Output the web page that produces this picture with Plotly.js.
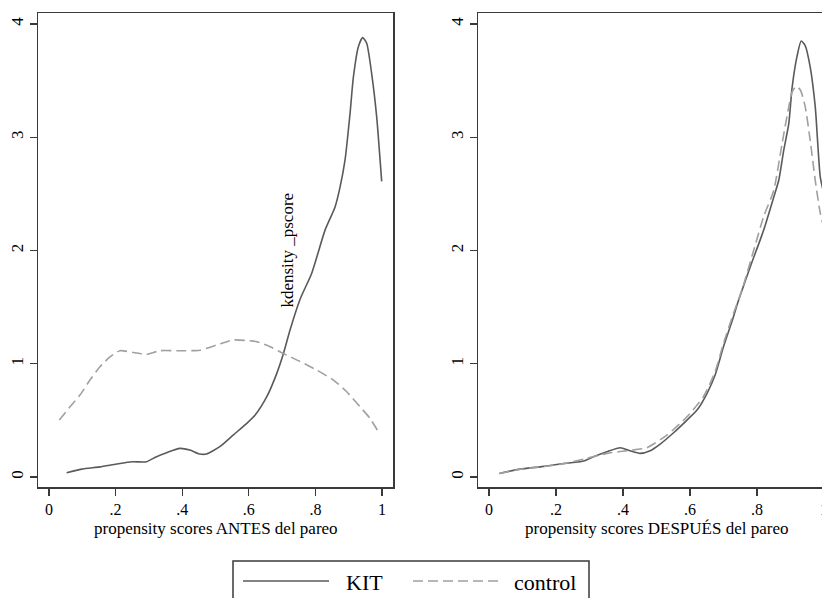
<!DOCTYPE html>
<html>
<head>
<meta charset="utf-8">
<script src="https://cdn.plot.ly/plotly-3.0.1.min.js"></script>
<style>
html, body { margin:0; padding:0; overflow:hidden; background:#fff; }
#chart { width:850px; height:610px; }
</style>
</head>
<body>
<div id="chart"></div>
<script>
// Left panel: before matching (ANTES)
const kitBeforeX = [0.053,0.098,0.153,0.203,0.25,0.293,0.323,0.353,0.393,0.423,0.453,0.473,0.513,0.553,0.594,0.619,0.654,0.684,0.704,0.724,0.754,0.789,0.829,0.859,0.874,0.889,0.904,0.914,0.929,0.942,0.954,0.969,0.984,0.999];
const kitBeforeY = [0.038,0.07,0.09,0.115,0.135,0.135,0.18,0.215,0.253,0.238,0.203,0.203,0.268,0.37,0.474,0.547,0.709,0.915,1.09,1.30,1.57,1.80,2.18,2.385,2.56,2.80,3.21,3.53,3.80,3.88,3.83,3.56,3.18,2.61];
const ctlBeforeX = [0.031,0.063,0.093,0.123,0.153,0.183,0.213,0.253,0.293,0.333,0.393,0.453,0.503,0.553,0.594,0.624,0.664,0.704,0.754,0.804,0.854,0.894,0.934,0.964,0.989];
const ctlBeforeY = [0.503,0.62,0.724,0.856,0.973,1.06,1.115,1.10,1.083,1.115,1.115,1.12,1.165,1.21,1.205,1.195,1.15,1.09,1.02,0.944,0.856,0.753,0.62,0.518,0.40];
// Right panel: after matching (DESPUÉS)
const kitAfterX = [0.031,0.093,0.152,0.212,0.282,0.312,0.352,0.392,0.421,0.451,0.481,0.511,0.551,0.591,0.621,0.651,0.675,0.700,0.725,0.745,0.78,0.82,0.85,0.865,0.88,0.895,0.905,0.92,0.932,0.944,0.959,0.974,0.989,1.0];
const kitAfterY = [0.032,0.07,0.09,0.115,0.141,0.18,0.224,0.259,0.232,0.209,0.232,0.291,0.391,0.503,0.591,0.739,0.90,1.15,1.37,1.56,1.856,2.18,2.47,2.62,2.886,3.12,3.44,3.72,3.85,3.81,3.62,3.27,2.65,2.5];
const ctlAfterX = [0.031,0.093,0.212,0.292,0.352,0.411,0.471,0.531,0.591,0.64,0.675,0.70,0.730,0.755,0.79,0.82,0.85,0.875,0.895,0.905,0.918,0.93,0.944,0.959,0.974,0.989,1.0];
const ctlAfterY = [0.032,0.068,0.112,0.165,0.209,0.232,0.259,0.37,0.532,0.709,0.93,1.18,1.445,1.65,2.0,2.30,2.53,2.945,3.27,3.40,3.45,3.415,3.27,2.97,2.62,2.33,2.2];

const xTickVals = [0, 0.2, 0.4, 0.6, 0.8, 1];
const xTickText = ['0', '.2', '.4', '.6', '.8', '1'];
const yTickVals = [0, 1, 2, 3, 4];
const seriesNames = ['KIT', 'control'];
const xTitles = ['propensity scores ANTES del pareo', 'propensity scores DESPUÉS del pareo'];
const annotText = 'kdensity _pscore';

const W = 850, H = 610;
const kitColor = '#5a5a5a', ctlColor = '#a0a0a0';
const frameColor = '#3a3a3a';
const FAMILY = 'Liberation Serif';
function mkFont(size) { return {family: FAMILY, color: '#000', size: size}; }

function kitLine() { return {color: kitColor, width: 1.6}; }
function ctlLine() { return {color: ctlColor, width: 1.6, dash: '10px,5px'}; }
function spl(l) { l.shape = 'spline'; l.smoothing = 0.6; return l; }

const traces = [
  {x: kitBeforeX, y: kitBeforeY, xaxis: 'x', yaxis: 'y', mode: 'lines', name: seriesNames[0], line: spl(kitLine()), showlegend: false},
  {x: ctlBeforeX, y: ctlBeforeY, xaxis: 'x', yaxis: 'y', mode: 'lines', name: seriesNames[1], line: spl(ctlLine()), showlegend: false},
  {x: kitAfterX, y: kitAfterY, xaxis: 'x2', yaxis: 'y2', mode: 'lines', name: seriesNames[0], line: spl(kitLine()), showlegend: false},
  {x: ctlAfterX, y: ctlAfterY, xaxis: 'x2', yaxis: 'y2', mode: 'lines', name: seriesNames[1], line: spl(ctlLine()), showlegend: false}
];

function xAxis(domain, anchor) {
  return {
    domain: domain, anchor: anchor, range: [-0.033, 1.033],
    tickvals: xTickVals, ticktext: xTickText,
    ticks: 'outside', ticklen: 7, tickwidth: 1.2, tickcolor: frameColor,
    showline: true, mirror: true, linecolor: frameColor, linewidth: 1.5,
    showgrid: false, zeroline: false, tickfont: mkFont(16)
  };
}
function yAxis(domain, anchor) {
  return {
    domain: domain, anchor: anchor, range: [-0.088, 4.097],
    tickvals: yTickVals, tickangle: -90,
    ticks: 'outside', ticklen: 7, tickwidth: 1.2, tickcolor: frameColor,
    showline: true, mirror: true, linecolor: frameColor, linewidth: 1.5,
    showgrid: false, zeroline: false, tickfont: mkFont(17)
  };
}

const yDom = [(H - 487) / H, (H - 13) / H];
const xDomL = [38 / W, 393 / W], xDomR = [478 / W, 835 / W];
const titleY = 1 - 528 / H;
const layout = {
  width: W, height: H,
  margin: {l: 0, r: 0, t: 0, b: 0},
  paper_bgcolor: '#fff', plot_bgcolor: '#fff',
  font: mkFont(17),
  showlegend: false,
  xaxis: xAxis(xDomL, 'y'),
  yaxis: yAxis(yDom, 'x'),
  xaxis2: xAxis(xDomR, 'y2'),
  yaxis2: yAxis(yDom, 'x2'),
  annotations: [
    {x: 0.715, y: 2.0, xref: 'x', yref: 'y', text: annotText, textangle: -90, showarrow: false, font: mkFont(17), xanchor: 'center', yanchor: 'middle'},
    {x: (xDomL[0] + xDomL[1]) / 2, y: titleY, xref: 'paper', yref: 'paper', text: xTitles[0], showarrow: false, xanchor: 'center', yanchor: 'middle', font: mkFont(17), borderpad: 0},
    {x: (xDomR[0] + xDomR[1]) / 2, y: titleY, xref: 'paper', yref: 'paper', text: xTitles[1], showarrow: false, xanchor: 'center', yanchor: 'middle', font: mkFont(17), borderpad: 0},
    {x: 344 / W, y: 1 - 582 / H, xref: 'paper', yref: 'paper', text: seriesNames[0], showarrow: false, xanchor: 'left', yanchor: 'middle', font: mkFont(22)},
    {x: 512 / W, y: 1 - 582 / H, xref: 'paper', yref: 'paper', text: seriesNames[1], showarrow: false, xanchor: 'left', yanchor: 'middle', font: mkFont(22)}
  ],
  shapes: [
    {type: 'rect', xref: 'paper', yref: 'paper', x0: 233 / W, x1: 589 / W, y0: 1 - 606 / H, y1: 1 - 561 / H, line: {color: frameColor, width: 1.5}, fillcolor: 'rgba(0,0,0,0)'},
    {type: 'line', xref: 'paper', yref: 'paper', x0: 243 / W, x1: 329 / W, y0: 1 - 581 / H, y1: 1 - 581 / H, line: kitLine()},
    {type: 'line', xref: 'paper', yref: 'paper', x0: 413 / W, x1: 500 / W, y0: 1 - 581 / H, y1: 1 - 581 / H, line: ctlLine()}
  ]
};

Plotly.newPlot('chart', traces, layout, {staticPlot: true, displayModeBar: false});
</script>
</body>
</html>
